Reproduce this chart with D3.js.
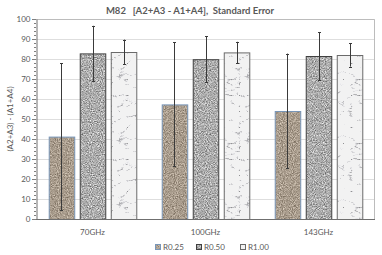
<!DOCTYPE html>
<html>
<head>
<meta charset="utf-8">
<script src="https://cdn.jsdelivr.net/npm/d3@7"></script>
<style>
  body { margin: 0; background: #fff; }
  text { font-family: Lato, "Open Sans", sans-serif; fill: #595959; }
</style>
</head>
<body>
<svg id="drawing_region"></svg>
<script>
const groups = ["70GHz", "100GHz", "143GHz"];
const series = ["R0.25", "R0.50", "R1.00"];
// mean values per series, one entry per group
const r025 = [41.2, 57.3, 54.0];
const r050 = [82.8, 79.9, 81.5];
const r100 = [83.5, 83.3, 82.0];
// standard error per series
const e025 = [36.7, 31.0, 28.7];
const e050 = [13.8, 11.6, 12.0];
const e100 = [6.2, 5.3, 5.8];
const yTicks = [0, 10, 20, 30, 40, 50, 60, 70, 80, 90, 100];

const values = [r025, r050, r100];
const errors = [e025, e050, e100];

const data = [];
groups.forEach((g, gi) => {
    series.forEach((s, si) => {
        data.push({ group: g, series: s, value: values[si][gi], err: errors[si][gi] });
    });
});

const config = {
    width: 382,
    height: 255,
    margin: { left: 36, right: 7, top: 19, bottom: 36 }
};

const svg = d3.select('#drawing_region')
    .attr('width', config.width)
    .attr('height', config.height);

// textures for the three series
const defs = svg.append('defs');

function texture(id, freq, type, matrix, octaves, seed, slope) {
    const f = defs.append('filter')
        .attr('id', 'f-' + id)
        .attr('x', 0).attr('y', 0)
        .attr('width', 64).attr('height', 64)
        .attr('filterUnits', 'userSpaceOnUse')
        .attr('color-interpolation-filters', 'sRGB');
    f.append('feTurbulence')
        .attr('type', type)
        .attr('baseFrequency', freq)
        .attr('numOctaves', octaves)
        .attr('seed', seed)
        .attr('stitchTiles', 'stitch');
    f.append('feColorMatrix')
        .attr('type', 'matrix')
        .attr('values', matrix);
    const ct = f.append('feComponentTransfer');
    ['feFuncR', 'feFuncG', 'feFuncB'].forEach(fn => {
        ct.append(fn).attr('type', 'linear').attr('slope', slope).attr('intercept', 0);
    });
    const p = defs.append('pattern')
        .attr('id', 'p-' + id)
        .attr('patternUnits', 'userSpaceOnUse')
        .attr('width', 64).attr('height', 64);
    p.append('rect')
        .attr('width', 64).attr('height', 64)
        .attr('filter', `url(#f-${id})`);
}

texture('r025', 0.9, 'fractalNoise',
    '0.6 0 0 0 0.36  0.6 0 0 0 0.31  0.6 0 0 0 0.25  0 0 0 0 1', 2, 3, 1);
texture('r050', 0.9, 'fractalNoise',
    '0.85 0 0 0 0.25  0.85 0 0 0 0.25  0.85 0 0 0 0.25  0 0 0 0 1', 2, 7, 1);
texture('r100', '0.06 0.09', 'turbulence',
    '2.6 0 0 0 0.6  2.6 0 0 0 0.6  2.6 0 0 0 0.61  0 0 0 0 1', 4, 11, 0.95);

const fills = { "R0.25": "url(#p-r025)", "R0.50": "url(#p-r050)", "R1.00": "url(#p-r100)" };
const strokes = { "R0.25": "#7896b8", "R0.50": "#404040", "R1.00": "#6a6a6a" };

const x0 = config.margin.left;
const x1 = config.width - config.margin.right;
const y0 = config.height - config.margin.bottom;
const y1 = config.margin.top;

const xScale = d3.scaleBand().domain(groups).range([x0, x1]);
const xInner = d3.scaleBand().domain(series)
    .range([0, xScale.bandwidth()])
    .paddingInner(0.177)
    .paddingOuter(0.41);
const yScale = d3.scaleLinear().domain([0, 100]).range([y0, y1]);

// gridlines
svg.append('g')
    .selectAll('line')
    .data(yTicks.slice(1))
    .join('line')
    .attr('x1', x0).attr('x2', x1)
    .attr('y1', d => yScale(d) + 0.5).attr('y2', d => yScale(d) + 0.5)
    .attr('stroke', '#dedede');

// plot frame (top and right)
svg.append('path')
    .attr('d', `M${x0},${y1 + 0.5}H${x1 - 0.5}V${y0}`)
    .attr('fill', 'none')
    .attr('stroke', '#bcbcbc');

// bars
svg.append('g')
    .selectAll('rect')
    .data(data)
    .join('rect')
    .attr('x', d => xScale(d.group) + xInner(d.series) + 0.5)
    .attr('y', d => yScale(d.value) + 0.5)
    .attr('width', xInner.bandwidth())
    .attr('height', d => y0 - yScale(d.value))
    .attr('fill', d => fills[d.series])
    .attr('stroke', d => strokes[d.series])
    .attr('stroke-width', 1);

// error bars
const eb = svg.append('g')
    .selectAll('g')
    .data(data)
    .join('g')
    .attr('transform', d => `translate(${Math.round(xScale(d.group) + xInner(d.series) + xInner.bandwidth() / 2) + 0.5},0)`)
    .attr('stroke', '#3a3a3a')
    .attr('stroke-width', 1);
eb.append('line')
    .attr('y1', d => yScale(d.value + d.err))
    .attr('y2', d => yScale(d.value - d.err));
eb.append('line')
    .attr('x1', -1.5).attr('x2', 1.5)
    .attr('y1', d => Math.round(yScale(d.value + d.err)) + 0.5)
    .attr('y2', d => Math.round(yScale(d.value + d.err)) + 0.5);
eb.append('line')
    .attr('x1', -1.5).attr('x2', 1.5)
    .attr('y1', d => Math.round(yScale(d.value - d.err)) + 0.5)
    .attr('y2', d => Math.round(yScale(d.value - d.err)) + 0.5);

// y axis with minor ticks
const minor = d3.range(0, 101, 2);
svg.append('g')
    .selectAll('line')
    .data(minor)
    .join('line')
    .attr('x1', d => d % 10 === 0 ? x0 - 4 : x0 - 2)
    .attr('x2', x0)
    .attr('y1', d => Math.round(yScale(d)) + 0.5)
    .attr('y2', d => Math.round(yScale(d)) + 0.5)
    .attr('stroke', '#7f7f7f');

const yAxis = svg.append('g')
    .attr('transform', `translate(${x0 + 0.5},0)`)
    .call(d3.axisLeft(yScale).tickValues(yTicks).tickSize(0).tickPadding(6));
yAxis.select('.domain').attr('stroke', '#6f6f6f');
yAxis.selectAll('text')
    .attr('font-family', 'Lato, sans-serif')
    .attr('font-size', 8)
    .attr('fill', '#595959');

// x axis baseline
svg.append('line')
    .attr('x1', x0).attr('x2', x1)
    .attr('y1', y0 + 0.5).attr('y2', y0 + 0.5)
    .attr('stroke', '#6f6f6f');

// x labels
svg.append('g')
    .selectAll('text')
    .data(groups)
    .join('text')
    .attr('x', d => xScale(d) + xScale.bandwidth() / 2)
    .attr('y', y0 + 16)
    .attr('text-anchor', 'middle')
    .attr('font-size', 8)
    .text(d => d);

// y title
svg.append('text')
    .attr('transform', `translate(13,${(y0 + y1) / 2}) rotate(-90)`)
    .attr('text-anchor', 'middle')
    .attr('font-size', 8)
    .text('(A2+A3) - (A1+A4)');

// title
svg.append('text')
    .attr('x', 190)
    .attr('y', 14)
    .attr('text-anchor', 'middle')
    .attr('font-size', 9.5)
    .attr('font-weight', 'bold')
    .attr('fill', '#6a6a6a')
    .attr('xml:space', 'preserve')
    .text('M82   [A2+A3 - A1+A4],  Standard Error');

// legend
const legendX = [155, 196, 240];
const lg = svg.append('g')
    .selectAll('g')
    .data(series)
    .join('g')
    .attr('transform', (d, i) => `translate(${legendX[i]},244)`);
lg.append('rect')
    .attr('x', 0.5).attr('y', 0.5)
    .attr('width', 5).attr('height', 5)
    .attr('fill', d => fills[d])
    .attr('stroke', d => strokes[d]);
lg.append('text')
    .attr('x', 8)
    .attr('y', 6)
    .attr('font-size', 8)
    .text(d => d);
</script>
</body>
</html>
